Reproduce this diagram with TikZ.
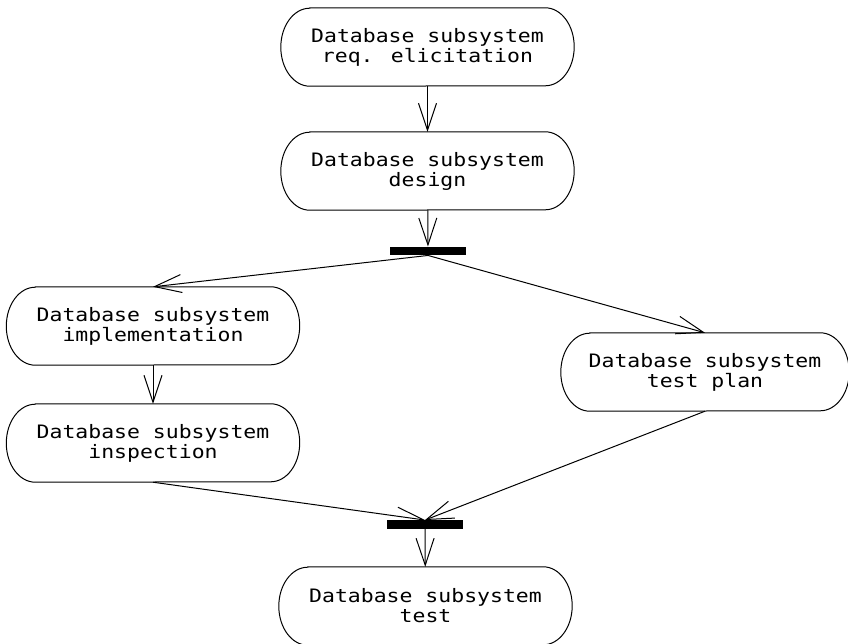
\documentclass[tikz,border=0pt]{standalone}
\usepackage{fontspec}
\newfontfamily\diagfont{DejaVu Sans Mono}[FakeStretch=1.16]
\usetikzlibrary{arrows.meta}
\begin{document}
\begin{tikzpicture}[x=1pt,y=-1pt,
  activity/.style={minimum width=293pt,minimum height=78pt,
    align=center,inner sep=0pt,font=\diagfont\fontsize{18.5pt}{20pt}\selectfont,
    append after command={\pgfextra{\draw[line width=1pt]
      ([xshift=29pt]\tikzlastnode.north west) -- ([xshift=-29pt]\tikzlastnode.north east)
      arc[start angle=90,end angle=-90,x radius=29pt,y radius=39pt]
      -- ([xshift=29pt]\tikzlastnode.south west)
      arc[start angle=270,end angle=90,x radius=29pt,y radius=39pt] -- cycle;}}},
  syncbar/.style={fill=black,minimum width=76pt,minimum height=8.5pt,inner sep=0pt},
  flow/.style={line width=1pt,-{Straight Barb[length=27pt,width=18pt,line width=1pt]}}]
\useasboundingbox (0,0) rectangle (848,644);
\node[activity] (req) at (427.5,47) {Database subsystem\\req. elicitation};
\node[activity] (des) at (427.5,171) {Database subsystem\\design};
\node[syncbar] (fork) at (428,251) {};
\node[activity] (impl) at (153,326) {Database subsystem\\implementation};
\node[activity,minimum width=288pt] (plan) at (705,372) {Database subsystem\\test plan};
\node[activity] (insp) at (153,443) {Database subsystem\\inspection};
\node[syncbar] (join) at (425,524.5) {};
\node[activity] (test) at (425.5,606) {Database subsystem\\test};
\draw[flow] (req) -- (des);
\draw[flow] (des) -- (fork);
\draw[flow] (fork.south) -- (impl.north);
\draw[flow] (fork.south) -- (plan.north);
\draw[flow] (impl) -- (insp);
\draw[flow] (insp.south) -- (join.north);
\draw[flow] (plan.south) -- (join.north);
\draw[flow] (join) -- (test);
\end{tikzpicture}
\end{document}
